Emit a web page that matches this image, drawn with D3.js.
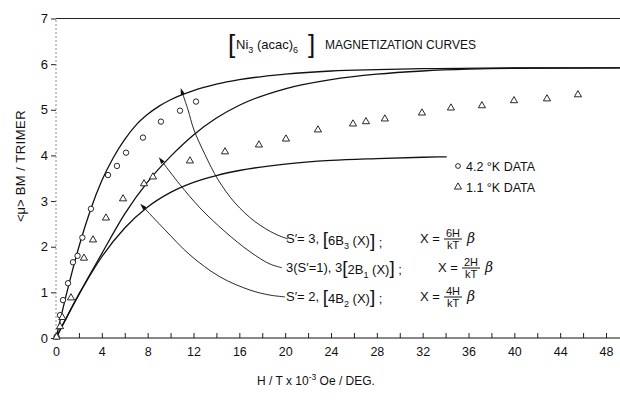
<!DOCTYPE html>
<html>
<head>
<meta charset="utf-8">
<script src="https://d3js.org/d3.v7.min.js"></script>
<style>
  body { margin: 0; background: #fff; }
  text { font-family: "Liberation Sans", Arial, sans-serif; fill: #111; }
  .curve { fill: none; stroke: #111; stroke-width: 1.3; }
  .pointer { fill: none; stroke: #111; stroke-width: 0.9; }
  .mark { fill: #fff; stroke: #111; stroke-width: 0.9; }
</style>
</head>
<body>
<script>
// theory curves: [H/T (10^3 Oe/deg), <mu> BM/trimer]
var curveS3 = [[0,0],[1,1.05],[2,2.0],[3,2.8],[4,3.45],[5,3.95],[6,4.35],[7,4.67],[8,4.9],
  [9,5.08],[10,5.22],[12,5.42],[14,5.56],[16,5.66],[20,5.78],[24,5.85],[28,5.88],[32,5.9],
  [40,5.92],[49.3,5.92]];
var curveS1 = [[0,0],[2,0.96],[4,1.85],[6,2.72],[8,3.42],[10,3.98],[12,4.45],[14,4.82],
  [16,5.1],[20,5.46],[24,5.66],[28,5.78],[32,5.85],[36,5.89],[40,5.91],[49.3,5.92]];
var curveS2 = [[0,0],[2,0.95],[4,1.78],[6,2.41],[8,2.87],[10,3.19],[12,3.41],[14,3.56],
  [16,3.67],[20,3.81],[24,3.89],[28,3.93],[32,3.96],[34.1,3.97]];

// measured points
var data42 = [[0.05,0.03],[0.35,0.5],[0.61,0.83],[1.05,1.2],[1.48,1.66],[1.88,1.8],[2.3,2.2],
  [3.05,2.83],[4.54,3.57],[5.32,3.77],[6.11,4.06],[7.59,4.39],[9.16,4.74],[10.82,4.98],[12.22,5.18]];
var data11 = [[0.05,0.02],[0.35,0.25],[0.55,0.45],[1.31,0.88],[2.44,1.75],[3.23,2.15],[4.36,2.63],
  [5.85,3.05],[7.68,3.38],[8.46,3.53],[11.69,3.88],[14.75,4.08],[17.71,4.23],[20.07,4.36],
  [22.86,4.56],[25.92,4.69],[27.05,4.74],[28.7,4.8],[31.94,4.93],[34.47,5.04],[37.17,5.09],
  [39.97,5.2],[42.85,5.24],[45.55,5.33]];

// leader lines from the labels to the curves (tip first)
var pointerS3 = [[11.08,5.33],[11.52,5.0],[12.04,4.56],[13.0,4.02],[14.14,3.47],[15.62,2.96],
  [17.37,2.55],[19.12,2.28],[20.25,2.17]];
var pointerS1 = [[9.34,3.84],[10.82,3.36],[12.57,2.85],[14.75,2.33],[16.93,1.89],[18.68,1.62],[19.72,1.54]];
var pointerS2 = [[7.77,2.83],[9.51,2.37],[11.69,1.82],[14.31,1.34],[16.93,1.05],[18.68,0.94],[19.99,0.9]];

var xTicks = d3.range(0, 49, 2);
var yTicks = d3.range(0, 8, 1);

var width = 620, height = 401;

var svg = d3.select("body").append("svg")
    .attr("width", width)
    .attr("height", height);

var x = d3.scaleLinear().domain([0, 48]).range([56, 606]);
var y = d3.scaleLinear().domain([0, 7]).range([338, 18.5]);

svg.append("defs").append("marker")
    .attr("id", "head")
    .attr("viewBox", "0 -3 8 6")
    .attr("refX", 0).attr("refY", 0)
    .attr("markerWidth", 8).attr("markerHeight", 6)
    .attr("markerUnits", "userSpaceOnUse")
    .attr("orient", "auto-start-reverse")
    .append("path")
    .attr("d", "M0,-2.2L7,0L0,2.2Z")
    .attr("fill", "#111");

// x axis
var xAxis = d3.axisBottom(x)
    .tickValues(xTicks)
    .tickSize(-5)
    .tickPadding(9)
    .tickFormat(function (d) { return d % 4 === 0 ? d : ""; });
var gx = svg.append("g")
    .attr("transform", "translate(0," + y(0) + ")")
    .call(xAxis);
gx.select(".domain").remove();
gx.selectAll("line").attr("stroke", "#222");
gx.selectAll("text").style("font-size", "12.5px").attr("fill", "#111");
gx.append("line")
    .attr("x1", x(0)).attr("x2", width)
    .attr("stroke", "#111").attr("stroke-width", 1);

// y axis
var yAxis = d3.axisLeft(y).tickValues(yTicks).tickSize(5).tickPadding(3)
    .tickFormat(d3.format("d"));
var gy = svg.append("g")
    .attr("transform", "translate(" + x(0) + ",0)")
    .call(yAxis);
gy.select(".domain").remove();
gy.selectAll("line").attr("stroke", "#222");
gy.selectAll("text").style("font-size", "13px").attr("fill", "#111");
gy.append("line")
    .attr("y1", y(0)).attr("y2", y(7))
    .attr("stroke", "#888").attr("stroke-dasharray", "2,2");

// top frame line
svg.append("line")
    .attr("x1", x(0)).attr("x2", width)
    .attr("y1", y(7)).attr("y2", y(7))
    .attr("stroke", "#222").attr("stroke-width", 1);

var line = d3.line()
    .x(function (d) { return x(d[0]); })
    .y(function (d) { return y(d[1]); })
    .curve(d3.curveMonotoneX);

[curveS3, curveS1, curveS2].forEach(function (c) {
  svg.append("path").datum(c).attr("class", "curve").attr("d", line);
});

var pointerLine = d3.line()
    .x(function (d) { return x(d[0]); })
    .y(function (d) { return y(d[1]); })
    .curve(d3.curveCatmullRom);

[pointerS3, pointerS1, pointerS2].forEach(function (p) {
  svg.append("path").datum(p)
      .attr("class", "pointer")
      .attr("d", pointerLine)
      .attr("marker-start", "url(#head)");
});

// markers
svg.selectAll("circle.d42").data(data42).enter().append("circle")
    .attr("class", "mark d42")
    .attr("cx", function (d) { return x(d[0]); })
    .attr("cy", function (d) { return y(d[1]); })
    .attr("r", 2.7);

var tri = d3.symbol().type(d3.symbolTriangle).size(22);
svg.selectAll("path.d11").data(data11).enter().append("path")
    .attr("class", "mark d11")
    .attr("d", tri)
    .attr("transform", function (d) { return "translate(" + x(d[0]) + "," + y(d[1]) + ")"; });

// title
var title = svg.append("text").attr("x", 236).attr("y", 49).style("font-size", "13px");
title.append("tspan").text("Ni");
title.append("tspan").attr("dy", 4).style("font-size", "9px").text("3");
title.append("tspan").attr("dy", -4).text(" (acac)");
title.append("tspan").attr("dy", 4).style("font-size", "9px").text("6");
svg.append("text").attr("x", 228).attr("y", 53).style("font-size", "26px").style("font-weight", "200").text("[");
svg.append("text").attr("x", 308).attr("y", 53).style("font-size", "26px").style("font-weight", "200").text("]");
svg.append("text").attr("x", 325).attr("y", 49).style("font-size", "12px").text("MAGNETIZATION  CURVES");

// legend
svg.append("circle").attr("class", "mark").attr("cx", 458).attr("cy", 166).attr("r", 2.4);
svg.append("path").attr("class", "mark").attr("d", tri)
    .attr("transform", "translate(458,187)");
svg.append("text").attr("x", 466).attr("y", 170.5).style("font-size", "12.5px").text("4.2 °K  DATA");
svg.append("text").attr("x", 466).attr("y", 191.5).style("font-size", "12.5px").text("1.1 °K  DATA");

// curve labels
function label(yy, parts, xEq, num) {
  var t = svg.append("text").attr("x", 286).attr("y", yy).style("font-size", "13px");
  parts.forEach(function (p) {
    var s = t.append("tspan").text(p.t);
    if (p.sub) s.attr("dy", 4).style("font-size", "9px");
    if (p.back) s.attr("dy", -4);
    if (p.big) s.style("font-size", "19px").attr("dy", p.dy || 0);
  });
  svg.append("text").attr("x", xEq).attr("y", yy).style("font-size", "13px").text("X =");
  var fx = xEq + 33;
  svg.append("text").attr("x", fx).attr("y", yy - 6).attr("text-anchor", "middle")
      .style("font-size", "11px").text(num + "H");
  svg.append("line").attr("x1", fx - 9).attr("x2", fx + 9)
      .attr("y1", yy - 4).attr("y2", yy - 4).attr("stroke", "#111");
  svg.append("text").attr("x", fx).attr("y", yy + 6).attr("text-anchor", "middle")
      .style("font-size", "11px").text("kT");
  svg.append("text").attr("x", fx + 14).attr("y", yy).style("font-size", "14px")
      .style("font-family", "DejaVu Serif, serif").style("font-style", "italic").text("β");
}

label(243, [{t: "S′= 3,  "}, {t: "[", big: true, dy: 2}, {t: "6B", dy: -2}, {t: "3", sub: true},
  {t: " (X)", back: true}, {t: "]", big: true, dy: 2}, {t: " ;"}], 420, "6");
label(272, [{t: "3(S′=1),  3"}, {t: "[", big: true, dy: 2}, {t: "2B"}, {t: "1", sub: true},
  {t: " (X)", back: true}, {t: "]", big: true}, {t: " ;"}], 438, "2");
label(301, [{t: "S′= 2,  "}, {t: "[", big: true, dy: 2}, {t: "4B"}, {t: "2", sub: true},
  {t: " (X)", back: true}, {t: "]", big: true}, {t: " ;"}], 420, "4");

// axis titles
var yt = svg.append("text")
    .attr("transform", "translate(25,166) rotate(-90)")
    .attr("text-anchor", "middle")
    .style("font-size", "13px");
yt.append("tspan").text("<μ>");
yt.append("tspan").attr("letter-spacing", "0.5px").text("   BM / TRIMER");

var xt = svg.append("text").attr("x", 316).attr("y", 385).attr("text-anchor", "middle")
    .style("font-size", "12px");
xt.append("tspan").text("H / T  x 10");
xt.append("tspan").attr("dy", -5).style("font-size", "8.5px").text("-3");
xt.append("tspan").attr("dy", 5).text(" Oe / DEG.");
</script>
</body>
</html>
